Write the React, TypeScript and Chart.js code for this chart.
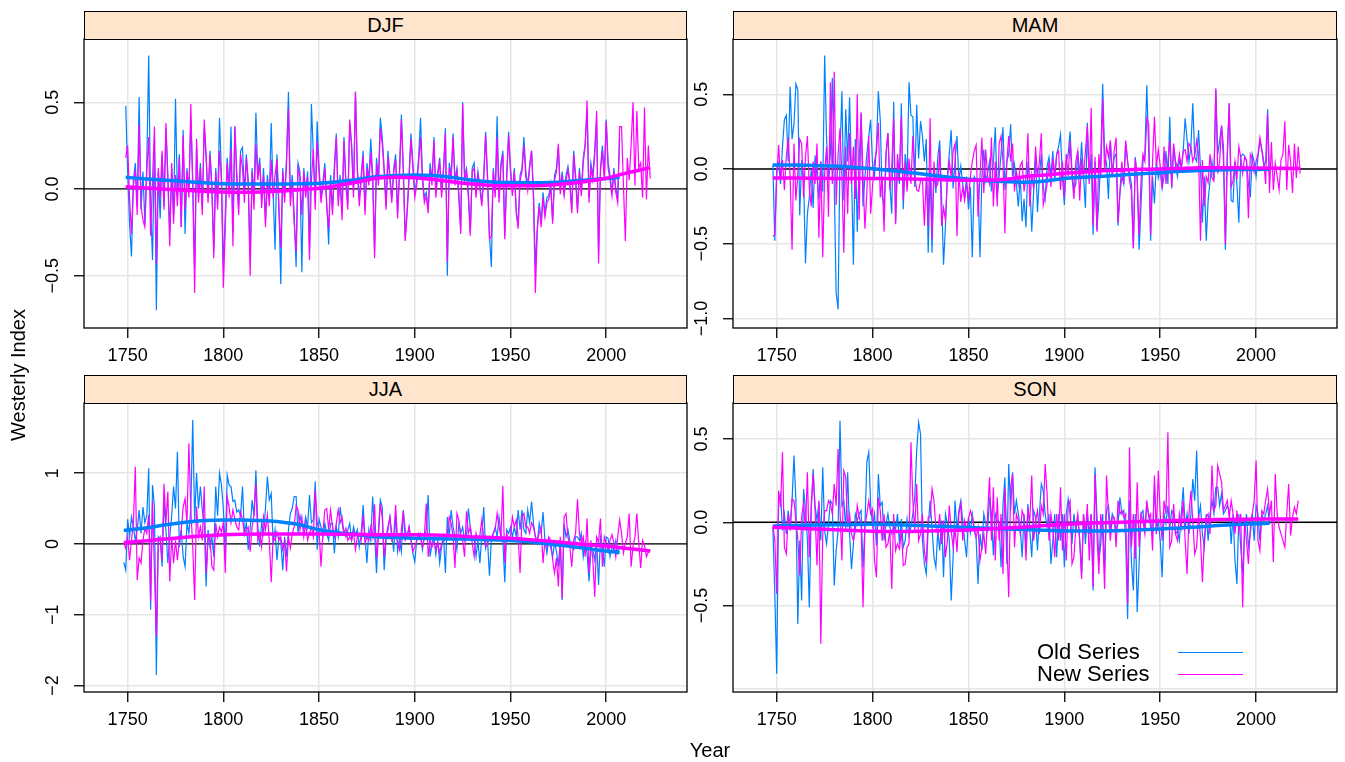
import React, { useEffect, useRef } from "react";
import { Chart, registerables } from "chart.js";
Chart.register(...registerables);

const OLD_COLOR = "#0080ff";
const NEW_COLOR = "#ff00ff";
const FONT = '"Liberation Sans", Arial, Helvetica, sans-serif';

const X_MIN = 1727.2;
const X_MAX = 2042.2;
const X_TICKS = [1750, 1800, 1850, 1900, 1950, 2000];

// ---------------- DJF ----------------
const DJF_START = 1749;
const DJF_OLD = [
  0.48,
  0.10, -0.20, -0.39, 0.05, 0.15, -0.10, 0.53, -0.12, 0.10, -0.20,
  0.15, 0.77, -0.10, -0.41, 0.30, -0.70, 0.10, -0.17, 0.20, -0.10,
  0.35, 0.08, -0.25, 0.12, -0.15, 0.52, -0.05, 0.20, -0.22, 0.34,
  -0.26, 0.12, -0.02, 0.40, 0.05, -0.45, 0.25, -0.05, 0.15, -0.12,
  0.35, 0.18, -0.05, 0.22, 0.02, -0.35, 0.12, -0.08, 0.41, 0.08,
  -0.45, -0.15, 0.18, 0.00, 0.36, -0.25, 0.36, 0.10, -0.10, 0.22,
  0.24, -0.02, 0.20, 0.05, -0.40, 0.12, -0.05, 0.44, 0.08, 0.18,
  -0.06, 0.12, -0.18, 0.08, -0.05, 0.38, -0.02, -0.35, 0.20, -0.08,
  -0.55, 0.12, -0.05, 0.18, 0.56, -0.05, 0.08, -0.15, -0.45, 0.15,
  0.10, -0.48, 0.12, -0.02, 0.10, -0.35, 0.49, 0.20, -0.08, 0.39,
  0.12, -0.05, 0.04, 0.15, -0.08, -0.32, 0.08, -0.12, 0.14, 0.32,
  -0.06, 0.08, -0.14, 0.30, 0.05, -0.08, 0.38, 0.26, -0.02, 0.56,
  0.12, -0.06, 0.08, 0.22, -0.12, 0.15, 0.05, 0.29, 0.08, -0.35,
  0.18, 0.05, 0.41, 0.30, 0.12, -0.10, 0.22, 0.08, -0.05, 0.12,
  0.20, -0.14, 0.10, 0.43, 0.12, -0.28, -0.12, 0.08, 0.32, 0.15,
  -0.02, 0.05, 0.18, 0.41, 0.08, -0.05, -0.02, -0.12, 0.15, 0.05,
  0.30, -0.02, 0.10, 0.18, -0.02, 0.12, 0.35, -0.50, 0.15, 0.08,
  0.32, 0.05, 0.12, -0.02, -0.24, 0.50, 0.08, 0.12, -0.02, -0.25,
  0.12, 0.15, -0.02, 0.10, 0.02, -0.08, 0.08, 0.33, 0.08, -0.27,
  -0.45, 0.12, -0.02, 0.42, -0.05, 0.15, 0.22, -0.27, 0.08, 0.33,
  0.12, -0.02, 0.12, -0.12, -0.21, 0.08, 0.12, 0.30, 0.10, 0.02,
  0.14, 0.22, -0.02, -0.45, -0.22, -0.08, -0.20, -0.02, -0.14, -0.05,
  -0.04, 0.03, -0.18, 0.08, 0.12, 0.24, -0.01, 0.10, -0.02, 0.08,
  0.13, 0.04, -0.12, 0.22, 0.08, -0.12, 0.12, -0.02, 0.18, 0.26,
  0.45, -0.05, 0.15, 0.08, 0.22, 0.40, -0.38, 0.12, 0.25, 0.08,
  0.40, 0.15, 0.08, -0.02, 0.12, 0.00, -0.05, 0.30,
];
const DJF_NEW = [
  0.18,
  0.25, -0.05, -0.26, 0.02, 0.11, -0.15, 0.37, -0.10, -0.18, -0.22,
  0.10, 0.30, -0.27, 0.05, 0.36, -0.43, 0.12, -0.05, 0.22, -0.12,
  0.38, 0.05, -0.33, 0.15, -0.20, 0.08, -0.10, 0.18, -0.22, 0.31,
  -0.12, 0.10, -0.05, 0.49, 0.02, -0.60, 0.29, -0.08, 0.12, -0.15,
  0.40, 0.20, -0.08, 0.20, 0.00, -0.40, 0.10, -0.12, 0.22, 0.05,
  -0.57, -0.23, 0.15, -0.05, 0.23, -0.33, 0.36, 0.05, -0.15, 0.20,
  0.12, -0.08, 0.18, 0.02, -0.50, 0.10, -0.12, 0.26, 0.05, 0.15,
  -0.11, 0.08, -0.22, 0.05, -0.10, 0.17, -0.05, 0.08, 0.17, -0.12,
  -0.34, 0.10, -0.08, 0.15, 0.46, -0.10, 0.05, -0.20, -0.36, 0.12,
  0.07, -0.15, 0.10, -0.05, 0.07, -0.41, 0.05, 0.23, -0.12, 0.27,
  0.10, -0.08, 0.01, 0.12, -0.10, -0.23, 0.05, -0.15, 0.10, 0.30,
  -0.10, 0.05, -0.18, 0.28, 0.02, -0.12, 0.40, 0.24, -0.05, 0.56,
  0.10, -0.10, 0.05, 0.19, -0.15, 0.12, 0.02, 0.21, 0.05, -0.40,
  0.15, 0.02, 0.35, 0.26, 0.10, -0.12, 0.19, 0.05, -0.08, 0.10,
  0.17, -0.17, 0.08, 0.40, 0.10, -0.30, -0.14, 0.05, 0.29, 0.12,
  -0.05, 0.02, 0.15, 0.30, 0.05, -0.08, -0.04, -0.14, 0.12, 0.02,
  0.28, -0.05, 0.08, 0.15, -0.05, 0.10, 0.32, -0.42, 0.12, 0.05,
  0.30, 0.02, 0.10, -0.05, -0.26, 0.49, 0.05, 0.10, -0.05, -0.27,
  0.10, 0.12, -0.05, 0.08, 0.00, -0.10, 0.05, 0.31, 0.05, -0.29,
  -0.27, 0.10, -0.05, 0.30, -0.08, 0.12, 0.20, -0.29, 0.05, 0.31,
  0.10, -0.04, 0.10, -0.14, -0.23, 0.05, 0.10, 0.25, 0.07, -0.01,
  0.12, 0.22, -0.05, -0.60, -0.24, -0.10, -0.22, -0.05, -0.16, -0.08,
  -0.06, 0.01, -0.20, 0.05, 0.10, 0.26, -0.03, 0.08, -0.04, 0.05,
  0.11, 0.02, -0.14, 0.20, 0.05, -0.14, 0.10, -0.04, 0.15, 0.25,
  0.51, -0.08, 0.12, 0.05, 0.20, 0.45, -0.43, 0.10, 0.22, 0.05,
  0.39, 0.12, 0.05, -0.04, 0.10, -0.02, -0.08, 0.36, 0.36, 0.02,
  -0.30, 0.18, 0.05, 0.25, 0.50, 0.02, 0.45, 0.12, 0.15, -0.05,
  0.47, -0.06, 0.25, 0.06,
];
const DJF_OLD_SMOOTH = [
  [1749, 0.067], [1760, 0.058], [1770, 0.05], [1780, 0.043], [1790, 0.036], [1800, 0.03],
  [1810, 0.028], [1820, 0.028], [1830, 0.029], [1840, 0.03], [1850, 0.033], [1860, 0.042],
  [1870, 0.055], [1880, 0.07], [1890, 0.078], [1900, 0.081], [1910, 0.077], [1920, 0.066],
  [1930, 0.05], [1940, 0.04], [1950, 0.037], [1960, 0.036], [1970, 0.037], [1980, 0.043],
  [1990, 0.052], [2000, 0.06], [2007, 0.067],
];
const DJF_NEW_SMOOTH = [
  [1749, 0.013], [1760, 0.005], [1770, -0.002], [1780, -0.008], [1790, -0.013], [1800, -0.018],
  [1810, -0.019], [1820, -0.017], [1830, -0.012], [1840, -0.004], [1850, 0.004], [1860, 0.02],
  [1870, 0.04], [1880, 0.062], [1890, 0.068], [1900, 0.065], [1910, 0.055], [1920, 0.04],
  [1930, 0.028], [1940, 0.02], [1950, 0.018], [1960, 0.018], [1970, 0.022], [1980, 0.032],
  [1990, 0.045], [2000, 0.062], [2010, 0.09], [2023, 0.123],
];

// ---------------- MAM ----------------
const MAM_START = 1748;
const MAM_OLD = [
  0.03, -0.48,
  0.00, 0.04, -0.10, 0.15, 0.33, 0.36, 0.05, 0.55, 0.20, 0.30,
  0.57, 0.53, -0.31, 0.06, -0.05, -0.63, -0.30, -0.19, 0.00, -0.26,
  0.09, -0.05, -0.20, 0.05, -0.15, 0.76, 0.20, -0.07, 0.10, 0.61,
  -0.10, -0.83, -0.94, 0.10, 0.52, -0.21, 0.40, 0.05, 0.48, -0.03,
  -0.64, 0.20, -0.42, 0.05, 0.37, -0.25, -0.05, 0.10, 0.22, 0.33,
  0.02, -0.05, 0.15, 0.52, 0.33, -0.18, -0.25, 0.10, 0.24, -0.10,
  -0.30, 0.45, -0.36, 0.05, -0.10, 0.44, -0.27, 0.10, -0.05, 0.58,
  0.36, 0.35, -0.12, 0.43, 0.07, 0.32, 0.22, 0.05, 0.20, -0.56,
  0.00, -0.56, 0.00, -0.16, 0.08, 0.19, -0.20, -0.64, -0.38, -0.05,
  0.10, 0.26, -0.13, 0.05, 0.22, -0.08, 0.02, -0.10, -0.19, -0.05,
  -0.27, -0.12, -0.59, -0.05, -0.07, -0.10, -0.59, -0.05, 0.13, -0.08,
  -0.03, 0.05, -0.15, 0.05, 0.28, -0.19, -0.05, 0.10, 0.28, -0.14,
  0.05, 0.10, 0.30, -0.05, 0.03, -0.10, -0.25, -0.05, -0.35, -0.20,
  -0.39, 0.05, -0.08, -0.42, -0.15, 0.08, -0.29, -0.05, 0.10, -0.12,
  -0.20, 0.02, 0.08, -0.05, 0.12, -0.08, 0.10, 0.15, 0.23, -0.05,
  -0.24, 0.05, 0.10, 0.25, -0.02, -0.14, -0.10, 0.12, -0.05, 0.18,
  -0.05, -0.26, 0.31, -0.08, 0.10, -0.44, 0.05, -0.41, -0.21, 0.08,
  0.57, 0.10, 0.04, -0.20, 0.19, -0.05, 0.08, 0.10, -0.38, -0.16,
  -0.05, -0.10, 0.17, 0.05, -0.03, -0.10, -0.53, 0.08, -0.08, -0.54,
  -0.24, 0.05, 0.10, 0.56, 0.12, -0.48, -0.05, -0.23, 0.05, -0.06,
  0.00, -0.13, -0.05, 0.12, -0.10, 0.35, -0.13, 0.15, 0.02, -0.05,
  0.06, 0.00, 0.12, 0.34, 0.20, 0.05, 0.15, 0.44, 0.08, 0.05,
  0.26, 0.01, -0.36, -0.05, -0.48, -0.21, -0.08, 0.05, -0.07, 0.53,
  0.10, 0.19, 0.29, 0.05, -0.54, 0.10, 0.44, -0.21, -0.22, 0.05,
  -0.10, -0.36, 0.08, 0.10, 0.09, 0.05, -0.10, -0.19, 0.10, 0.05,
  -0.05, 0.08, 0.19, 0.13, 0.02, 0.05, 0.40, -0.04,
];
const MAM_NEW = [
  -0.45, -0.44,
  -0.05, 0.16, -0.07, 0.06, -0.14, 0.08, 0.21, -0.05, -0.54, 0.17,
  -0.21, -0.03, 0.20, 0.17, -0.19, 0.08, 0.22, -0.13, -0.25, 0.05,
  -0.10, 0.17, -0.46, 0.05, -0.59, -0.03, 0.15, -0.32, 0.58, -0.10,
  0.65, -0.24, 0.10, 0.27, -0.05, -0.56, 0.15, -0.30, 0.24, -0.10,
  0.15, -0.20, 0.50, -0.34, 0.38, -0.05, -0.40, -0.16, 0.22, -0.30,
  -0.11, 0.05, 0.12, 0.31, -0.19, -0.05, -0.42, 0.10, 0.24, -0.14,
  0.02, 0.34, -0.37, 0.10, -0.05, 0.35, -0.21, 0.05, -0.15, 0.07,
  -0.10, 0.22, -0.05, -0.14, -0.15, -0.08, -0.07, -0.38, -0.05, -0.38,
  0.34, -0.47, 0.05, -0.12, -0.10, 0.13, -0.38, -0.26, -0.34, -0.06,
  0.05, -0.05, 0.12, 0.17, -0.45, -0.02, -0.22, -0.12, -0.21, -0.10,
  -0.20, -0.05, 0.05, 0.12, 0.16, -0.32, -0.05, 0.21, -0.16, 0.13,
  -0.05, -0.10, 0.21, -0.25, 0.05, -0.25, 0.17, 0.22, 0.05, -0.43,
  0.05, 0.22, 0.05, 0.17, -0.15, -0.02, -0.10, 0.02, 0.05, -0.15,
  -0.05, 0.24, -0.25, -0.04, -0.13, 0.15, -0.05, 0.05, 0.24, -0.24,
  -0.18, -0.10, 0.05, -0.12, 0.07, -0.05, 0.10, 0.12, -0.14, 0.05,
  -0.19, 0.10, -0.05, 0.19, -0.05, -0.20, 0.05, 0.12, -0.21, 0.07,
  -0.05, 0.12, 0.29, -0.10, 0.41, -0.38, 0.08, -0.42, 0.10, -0.05,
  0.47, -0.02, 0.15, 0.08, 0.19, -0.05, 0.12, 0.21, -0.36, -0.15,
  0.05, -0.10, 0.19, 0.05, -0.08, -0.15, -0.53, 0.07, -0.05, -0.44,
  -0.07, 0.10, 0.05, 0.34, 0.30, -0.44, 0.05, 0.35, 0.02, 0.13,
  0.02, -0.13, 0.15, -0.10, 0.05, 0.19, -0.12, 0.17, 0.05, 0.01,
  0.10, 0.01, 0.12, 0.13, 0.05, 0.17, 0.15, 0.05, 0.09, 0.19,
  0.10, -0.48, 0.06, -0.25, -0.05, -0.09, 0.10, -0.06, -0.08, 0.54,
  -0.03, 0.05, 0.29, 0.15, -0.50, 0.10, 0.44, -0.12, -0.08, 0.05,
  -0.07, 0.15, 0.08, -0.03, 0.08, 0.06, -0.33, 0.10, 0.07, -0.02,
  0.05, 0.10, 0.21, 0.13, 0.05, -0.10, 0.37, -0.16, 0.18, -0.14,
  0.04, -0.05, -0.14, 0.06, 0.10, 0.32, -0.14, 0.16, 0.05, -0.16,
  0.17, -0.06, 0.15, -0.03,
];
const MAM_OLD_SMOOTH = [
  [1748, 0.027], [1760, 0.026], [1770, 0.024], [1780, 0.02], [1790, 0.012], [1800, 0.002],
  [1810, -0.01], [1820, -0.025], [1830, -0.04], [1840, -0.055], [1850, -0.068], [1860, -0.078],
  [1870, -0.085], [1880, -0.089], [1890, -0.08], [1900, -0.064], [1910, -0.055], [1920, -0.048],
  [1930, -0.04], [1940, -0.032], [1950, -0.025], [1960, -0.015], [1970, -0.01], [1980, -0.006],
  [1990, -0.004], [2000, -0.003], [2007, -0.002],
];
const MAM_NEW_SMOOTH = [
  [1748, -0.06], [1760, -0.061], [1770, -0.062], [1780, -0.063], [1790, -0.063], [1800, -0.064],
  [1810, -0.065], [1820, -0.067], [1830, -0.07], [1840, -0.073], [1850, -0.075], [1860, -0.074],
  [1870, -0.068], [1880, -0.05], [1890, -0.04], [1900, -0.029], [1910, -0.02], [1920, -0.012],
  [1930, -0.006], [1940, -0.002], [1950, 0.0], [1960, 0.004], [1970, 0.008], [1980, 0.009],
  [1990, 0.008], [2000, 0.006], [2010, 0.005], [2023, 0.004],
];

// ---------------- JJA ----------------
const JJA_START = 1748;
const JJA_OLD = [
  -0.26, -0.37,
  0.35, 0.10, 0.38, 0.24, 0.05, 0.20, 0.48, 0.15, 0.52, 0.30,
  0.40, 1.07, -0.93, 0.83, 0.52, -1.85, 0.10, 0.05, -0.32, 0.60,
  0.20, -0.27, 0.10, 0.40, 0.81, 0.50, 1.30, -0.04, 0.20, -0.18,
  -0.32, 0.30, 0.15, 0.50, 1.75, 0.34, 1.00, 0.50, 0.81, 0.48,
  0.30, -0.60, 0.20, -0.04, 0.10, -0.18, 0.81, 0.40, 1.00, 0.83,
  0.50, -0.13, 0.97, 0.83, 0.81, 0.60, 0.62, 0.45, 0.48, 0.40,
  0.81, 0.15, 0.30, -0.08, 0.20, 0.62, 0.40, 1.04, 0.24, -0.04,
  0.30, 0.15, 0.50, 0.95, 0.62, 0.71, 0.01, 0.20, -0.23, 0.10,
  0.05, -0.37, 0.10, -0.18, 0.20, 0.43, 0.50, 0.67, 0.67, 0.15,
  0.40, 0.29, 0.20, 0.38, 0.24, 0.69, 0.30, 0.34, 0.88, -0.08,
  0.35, 0.24, 0.10, 0.29, 0.15, 0.05, 0.29, 0.29, -0.13, 0.24,
  0.10, 0.52, 0.30, 0.15, 0.10, 0.20, 0.29, 0.05, 0.24, 0.13,
  0.20, -0.04, 0.15, 0.55, 0.10, -0.27, 0.20, 0.05, 0.67, 0.15,
  -0.41, 0.20, 0.62, 0.52, -0.37, 0.05, 0.20, 0.38, 0.15, -0.11,
  0.43, -0.11, 0.05, -0.11, 0.48, 0.20, 0.10, 0.24, 0.05, -0.13,
  -0.25, 0.05, 0.10, 0.15, -0.08, 0.10, 0.20, 0.69, -0.18, 0.01,
  0.10, -0.15, 0.05, -0.27, -0.04, 0.10, -0.41, 0.38, 0.10, 0.48,
  0.24, 0.10, -0.08, 0.29, 0.15, 0.24, 0.05, 0.10, 0.50, 0.24,
  0.05, 0.10, -0.18, 0.05, -0.27, 0.10, 0.52, -0.06, 0.05, -0.45,
  0.05, 0.15, 0.24, 0.10, 0.38, 0.15, 0.05, -0.54, 0.20, 0.15,
  0.24, 0.10, 0.24, 0.10, 0.48, 0.20, 0.48, 0.20, 0.15, 0.48,
  0.30, 0.60, 0.29, 0.10, 0.01, 0.29, 0.15, 0.45, 0.05, -0.13,
  0.05, -0.05, -0.18, 0.01, -0.10, -0.32, 0.05, -0.79, 0.29, 0.10,
  0.20, 0.05, -0.05, -0.08, 0.10, 0.10, 0.05, 0.15, -0.18, 0.02,
  -0.13, -0.53, -0.08, -0.08, -0.23, 0.05, -0.58, 0.10, -0.04, -0.32,
  0.10, 0.08, -0.18, -0.05, -0.08, 0.05, -0.13, -0.05,
];
const JJA_NEW = [
  0.02, -0.06,
  0.10, -0.23, 0.05, 0.30, 1.09, -0.51, -0.20, -0.27, 0.05, 0.22,
  0.15, 0.41, -0.81, 0.60, -0.37, -1.30, 0.05, 0.10, -0.23, 0.85,
  0.30, 0.74, -0.53, 0.10, -0.27, 0.05, -0.23, 0.05, 0.20, 0.52,
  0.64, 0.30, 1.42, 0.48, -0.04, -0.79, 0.53, 0.10, 0.24, 0.05,
  0.81, -0.41, 0.05, 0.10, -0.32, -0.37, 0.29, 0.10, 0.24, 0.17,
  0.30, -0.41, 0.67, 0.52, 0.30, 0.48, 0.35, 0.24, 0.20, 0.45,
  0.34, 0.15, 0.20, 0.24, -0.11, 0.24, 0.40, 0.85, 0.05, 0.15,
  -0.04, 0.38, 0.20, 0.41, 0.05, -0.54, 0.10, 0.05, 0.17, 0.05,
  0.10, -0.08, 0.05, -0.39, 0.10, -0.06, 0.15, 0.24, 0.54, 0.48,
  0.20, 0.38, 0.10, 0.29, 0.05, 0.15, 0.24, 0.10, 0.76, 0.30,
  0.20, -0.32, 0.15, 0.48, 0.50, 0.20, 0.48, 0.24, 0.10, 0.29,
  0.48, 0.30, 0.38, 0.15, 0.22, 0.05, 0.10, 0.05, 0.17, -0.08,
  0.10, 0.15, 0.05, 0.41, 0.01, 0.10, 0.05, 0.24, 0.10, 0.56,
  -0.20, 0.10, 0.57, 0.38, -0.18, 0.10, 0.24, 0.38, 0.05, 0.10,
  0.55, 0.05, -0.08, 0.20, 0.46, 0.05, 0.10, 0.24, 0.08, -0.11,
  -0.04, 0.05, 0.15, 0.08, -0.04, 0.10, 0.57, -0.18, 0.05, -0.04,
  0.03, -0.08, 0.02, -0.13, 0.01, 0.05, 0.06, 0.15, 0.38, 0.29,
  0.10, -0.34, 0.43, 0.34, 0.10, 0.05, -0.18, 0.46, 0.15, 0.24,
  0.01, -0.18, 0.15, 0.05, 0.12, 0.34, 0.10, -0.04, 0.01, 0.10,
  0.05, 0.15, 0.20, 0.43, 0.24, 0.10, 0.82, -0.27, 0.15, 0.05,
  0.12, 0.38, 0.24, 0.34, 0.10, -0.41, 0.38, 0.43, 0.24, 0.24,
  0.15, 0.30, 0.24, 0.10, 0.05, 0.15, 0.24, -0.27, 0.05, -0.04,
  0.10, 0.05, -0.22, -0.41, -0.20, -0.60, 0.10, -0.77, 0.38, 0.43,
  0.10, -0.04, -0.32, 0.05, 0.15, 0.63, 0.15, 0.01, 0.10, -0.18,
  0.36, -0.41, 0.05, -0.22, -0.75, 0.10, 0.03, 0.36, -0.32, 0.10,
  0.01, -0.11, 0.05, 0.13, 0.02, -0.18, 0.10, 0.34, 0.15, -0.13,
  0.01, 0.10, 0.43, -0.32, -0.04, 0.10, 0.43, 0.01, -0.34, 0.05,
  -0.02, -0.18, -0.11, -0.08,
];
const JJA_OLD_SMOOTH = [
  [1748, 0.19], [1760, 0.23], [1770, 0.27], [1780, 0.305], [1790, 0.33], [1800, 0.34],
  [1810, 0.34], [1820, 0.33], [1830, 0.31], [1840, 0.27], [1850, 0.2], [1860, 0.16],
  [1870, 0.13], [1880, 0.1], [1890, 0.09], [1900, 0.08], [1910, 0.075], [1920, 0.07],
  [1930, 0.065], [1940, 0.058], [1950, 0.05], [1960, 0.03], [1970, 0.0], [1980, -0.03],
  [1990, -0.065], [2000, -0.1], [2007, -0.12],
];
const JJA_NEW_SMOOTH = [
  [1748, 0.02], [1760, 0.045], [1770, 0.07], [1780, 0.095], [1790, 0.115], [1800, 0.13],
  [1810, 0.137], [1820, 0.14], [1830, 0.14], [1840, 0.14], [1850, 0.14], [1860, 0.138],
  [1870, 0.134], [1880, 0.13], [1890, 0.13], [1900, 0.13], [1910, 0.125], [1920, 0.115],
  [1930, 0.1], [1940, 0.09], [1950, 0.08], [1960, 0.06], [1970, 0.04], [1980, 0.015],
  [1990, -0.01], [2000, -0.03], [2010, -0.06], [2023, -0.1],
];

// ---------------- SON ----------------
const SON_START = 1748;
const SON_OLD = [
  -0.03, -0.43,
  -0.91, 0.13, 0.17, -0.05, 0.05, -0.07, 0.07, -0.03, 0.13, 0.40,
  0.13, -0.61, -0.11, -0.47, 0.20, 0.07, -0.10, -0.51, 0.07, 0.32,
  0.10, 0.01, 0.12, -0.11, 0.33, -0.05, -0.13, -0.01, 0.13, 0.11,
  -0.38, -0.17, -0.05, 0.61, 0.10, 0.13, -0.04, 0.30, -0.07, -0.28,
  -0.13, 0.05, 0.01, 0.05, 0.07, -0.27, -0.03, 0.36, 0.42, 0.10,
  -0.02, 0.05, -0.14, 0.29, 0.10, 0.12, -0.11, -0.01, 0.05, -0.03,
  -0.07, -0.02, -0.04, 0.05, -0.13, 0.02, -0.15, -0.11, 0.02, -0.08,
  -0.03, 0.05, 0.15, 0.43, 0.60, 0.53, -0.11, -0.25, -0.31, -0.03,
  0.13, -0.03, -0.21, -0.27, -0.05, -0.17, 0.01, -0.33, 0.05, -0.01,
  -0.11, -0.47, -0.21, 0.13, -0.05, 0.07, 0.13, 0.01, -0.11, -0.21,
  0.03, -0.06, 0.05, -0.03, -0.10, -0.37, -0.07, -0.17, 0.05, -0.01,
  -0.05, 0.15, 0.05, -0.20, 0.05, 0.01, -0.01, -0.27, 0.10, 0.27,
  -0.25, 0.35, 0.07, 0.30, 0.05, 0.13, 0.05, -0.03, -0.21, 0.05,
  -0.15, 0.11, -0.05, -0.21, 0.07, 0.03, -0.17, 0.05, 0.23, 0.19,
  0.05, -0.03, 0.05, -0.25, -0.11, 0.05, -0.21, 0.05, -0.11, 0.05,
  -0.27, 0.05, 0.14, 0.05, -0.13, 0.05, -0.05, 0.03, -0.10, -0.31,
  0.05, -0.13, 0.05, -0.07, 0.05, -0.41, 0.33, 0.05, -0.23, -0.13,
  0.05, -0.29, 0.07, 0.10, -0.03, 0.05, 0.02, -0.05, -0.01, 0.15,
  0.05, 0.07, -0.10, -0.58, 0.13, -0.24, -0.41, 0.05, -0.54, -0.25,
  0.05, 0.07, -0.05, 0.11, 0.05, -0.03, -0.07, 0.23, -0.05, 0.01,
  -0.11, -0.33, 0.05, -0.01, 0.10, -0.03, 0.07, 0.05, -0.07, -0.05,
  -0.11, 0.05, 0.21, -0.03, 0.05, -0.07, 0.05, 0.26, 0.13, 0.43,
  0.03, 0.10, -0.07, -0.15, 0.05, -0.11, 0.05, 0.13, 0.05, 0.21,
  0.21, 0.10, 0.17, 0.05, 0.07, 0.10, 0.07, -0.13, 0.05, -0.23,
  -0.37, 0.05, -0.15, -0.31, -0.07, 0.05, -0.15, -0.07, 0.05, -0.11,
  0.10, 0.05, -0.11, 0.05, 0.01, 0.05, 0.10, -0.01,
];
const SON_NEW = [
  -0.02, -0.11,
  -0.43, 0.19, 0.09, 0.42, -0.15, -0.19, 0.05, -0.05, 0.14, 0.13,
  0.01, -0.10, -0.32, 0.03, 0.11, -0.05, 0.30, -0.21, 0.10, 0.29,
  0.07, -0.26, 0.13, -0.73, -0.07, 0.07, 0.07, 0.13, 0.11, 0.05,
  0.23, 0.10, 0.44, 0.07, -0.23, 0.31, 0.27, -0.03, 0.05, -0.07,
  -0.11, -0.05, 0.10, 0.03, -0.01, -0.51, -0.03, 0.05, 0.13, 0.05,
  0.08, -0.23, -0.33, 0.15, 0.07, -0.11, 0.05, -0.15, -0.13, -0.05,
  -0.40, 0.05, -0.17, -0.13, -0.16, -0.05, -0.26, -0.25, -0.15, -0.13,
  0.48, 0.13, -0.05, 0.23, -0.11, -0.07, 0.05, -0.17, -0.25, 0.03,
  0.03, 0.20, 0.13, -0.03, -0.07, 0.05, -0.13, 0.01, -0.21, -0.11,
  0.10, -0.05, -0.15, -0.03, -0.18, 0.05, 0.11, -0.11, 0.01, -0.05,
  0.02, 0.07, 0.03, -0.05, -0.09, -0.03, -0.23, -0.15, -0.07, -0.19,
  0.05, 0.27, -0.11, 0.21, -0.23, 0.15, -0.11, 0.05, -0.31, 0.21,
  -0.11, -0.45, 0.21, 0.29, -0.15, 0.05, 0.01, -0.07, 0.07, 0.03,
  -0.23, 0.07, 0.01, 0.28, -0.11, 0.01, 0.07, -0.07, 0.10, 0.05,
  0.35, 0.17, -0.11, 0.05, -0.03, -0.21, 0.05, -0.11, 0.21, -0.17,
  0.05, -0.23, 0.10, 0.13, -0.25, -0.21, -0.03, 0.05, -0.11, -0.34,
  0.05, -0.07, 0.11, -0.23, 0.05, -0.39, 0.29, -0.07, -0.31, 0.05,
  -0.07, -0.40, 0.28, 0.05, -0.11, 0.03, 0.03, -0.15, 0.13, 0.05,
  0.07, 0.03, 0.05, -0.49, 0.45, -0.15, 0.05, -0.22, 0.24, -0.15,
  0.05, 0.01, -0.07, 0.13, 0.03, 0.05, -0.17, 0.28, -0.07, 0.31,
  0.05, -0.11, 0.13, 0.05, 0.54, -0.15, -0.11, 0.11, -0.07, -0.11,
  0.05, -0.03, 0.13, -0.11, -0.31, 0.05, 0.19, 0.01, -0.19, -0.15,
  0.05, -0.09, -0.36, -0.11, 0.03, 0.05, -0.07, 0.34, 0.07, 0.10,
  0.34, 0.29, 0.24, 0.07, 0.10, 0.13, 0.03, 0.13, 0.05, -0.07,
  0.07, -0.05, 0.05, -0.51, 0.01, -0.11, -0.25, -0.03, 0.05, 0.13,
  0.37, -0.11, -0.17, 0.07, 0.05, 0.13, 0.20, 0.05, 0.13, -0.24,
  0.29, 0.05, -0.03, -0.07, -0.11, -0.15, 0.05, 0.23, -0.08, 0.03,
  0.09, 0.05, 0.13,
];
const SON_OLD_SMOOTH = [
  [1748, -0.022], [1760, -0.02], [1770, -0.017], [1780, -0.015], [1790, -0.013], [1800, -0.012],
  [1810, -0.014], [1820, -0.018], [1830, -0.022], [1840, -0.026], [1850, -0.031], [1860, -0.036],
  [1870, -0.04], [1880, -0.044], [1890, -0.048], [1900, -0.052], [1910, -0.053], [1920, -0.052],
  [1930, -0.05], [1940, -0.045], [1950, -0.04], [1960, -0.034], [1970, -0.028], [1980, -0.02],
  [1990, -0.014], [2000, -0.009], [2007, -0.006],
];
const SON_NEW_SMOOTH = [
  [1748, -0.03], [1760, -0.035], [1770, -0.04], [1780, -0.045], [1790, -0.05], [1800, -0.054],
  [1810, -0.056], [1820, -0.055], [1830, -0.053], [1840, -0.05], [1850, -0.046], [1860, -0.041],
  [1870, -0.035], [1880, -0.028], [1890, -0.02], [1900, -0.012], [1910, -0.007], [1920, -0.003],
  [1930, 0.0], [1940, 0.004], [1950, 0.008], [1960, 0.011], [1970, 0.014], [1980, 0.016],
  [1990, 0.018], [2000, 0.019], [2010, 0.02], [2022, 0.02],
];

// ---------------- y-axis ticks ----------------
const DJF_Y_TICKS = [-0.5, 0, 0.5];
const DJF_Y_LABELS = ["−0.5", "0.0", "0.5"];
const MAM_Y_TICKS = [-1, -0.5, 0, 0.5];
const MAM_Y_LABELS = ["−1.0", "−0.5", "0.0", "0.5"];
const JJA_Y_TICKS = [-2, -1, 0, 1];
const JJA_Y_LABELS = ["−2", "−1", "0", "1"];
const SON_Y_TICKS = [-1, -0.5, 0, 0.5];
const SON_Y_LABELS = ["", "−0.5", "0.0", "0.5"];

const toPoints = (start: number, vals: number[]) => vals.map((v, i) => ({ x: start + i, y: v }));
const pairPoints = (pairs: number[][]) => pairs.map(([x, y]) => ({ x, y }));

const PANELS = [
  {
    name: "DJF", left: 84, top: 39, width: 603, height: 289, yMin: -0.802, yMax: 0.865,
    start: DJF_START, old: DJF_OLD, nw: DJF_NEW, oldS: DJF_OLD_SMOOTH, newS: DJF_NEW_SMOOTH,
    yTicks: DJF_Y_TICKS, yLabels: DJF_Y_LABELS,
  },
  {
    name: "MAM", left: 733, top: 39, width: 604, height: 289, yMin: -1.064, yMax: 0.87,
    start: MAM_START, old: MAM_OLD, nw: MAM_NEW, oldS: MAM_OLD_SMOOTH, newS: MAM_NEW_SMOOTH,
    yTicks: MAM_Y_TICKS, yLabels: MAM_Y_LABELS,
  },
  {
    name: "JJA", left: 84, top: 403, width: 603, height: 289, yMin: -2.09, yMax: 1.99,
    start: JJA_START, old: JJA_OLD, nw: JJA_NEW, oldS: JJA_OLD_SMOOTH, newS: JJA_NEW_SMOOTH,
    yTicks: JJA_Y_TICKS, yLabels: JJA_Y_LABELS,
  },
  {
    name: "SON", left: 733, top: 403, width: 604, height: 289, yMin: -1.019, yMax: 0.716,
    start: SON_START, old: SON_OLD, nw: SON_NEW, oldS: SON_OLD_SMOOTH, newS: SON_NEW_SMOOTH,
    yTicks: SON_Y_TICKS, yLabels: SON_Y_LABELS,
  },
];

const AX_W = 80;
const PAD_T = 4;
const PAD_R = 6;
const AX_H = 50;

const framePlugin = {
  id: "frameAndZero",
  beforeDatasetsDraw(chart: any) {
    const { ctx, chartArea } = chart;
    const y0 = chart.scales.y.getPixelForValue(0);
    ctx.save();
    ctx.strokeStyle = "#000";
    ctx.lineWidth = 1.3;
    ctx.beginPath();
    ctx.moveTo(chartArea.left, y0);
    ctx.lineTo(chartArea.right, y0);
    ctx.stroke();
    ctx.restore();
  },
  afterDraw(chart: any) {
    const { ctx, chartArea } = chart;
    ctx.save();
    ctx.strokeStyle = "#000";
    ctx.lineWidth = 1.3;
    ctx.strokeRect(chartArea.left, chartArea.top, chartArea.right - chartArea.left, chartArea.bottom - chartArea.top);
    ctx.restore();
  },
};

const yTextPlugin = {
  id: "yText",
  afterDraw(chart: any, _args: any, opts: any) {
    const { ctx, chartArea } = chart;
    const ys = chart.scales.y;
    ctx.save();
    ctx.font = `18px ${FONT}`;
    ctx.fillStyle = "#000";
    ctx.textAlign = "center";
    ctx.textBaseline = "middle";
    (opts.values || []).forEach((v: number, i: number) => {
      const label = opts.labels[i];
      if (!label) return;
      const y = ys.getPixelForValue(v);
      ctx.save();
      ctx.translate(chartArea.left - 31, y);
      ctx.rotate(-Math.PI / 2);
      ctx.fillText(label, 0, 0);
      ctx.restore();
    });
    ctx.restore();
  },
};

function Panel({ p }: { p: any }) {
  const ref = useRef<HTMLCanvasElement | null>(null);
  useEffect(() => {
    if (!ref.current) return;
    const labelFor = (v: number) => {
      const i = p.yTicks.indexOf(v);
      return i >= 0 ? p.yLabels[i] : "";
    };
    const chart = new Chart(ref.current, {
      type: "line",
      data: {
        datasets: [
          { label: "Old Series", data: toPoints(p.start, p.old), borderColor: OLD_COLOR, borderWidth: 1.2, pointRadius: 0, tension: 0, order: 4 },
          { label: "New Series", data: toPoints(p.start, p.nw), borderColor: NEW_COLOR, borderWidth: 1.2, pointRadius: 0, tension: 0, order: 3 },
          { label: "Old smooth", data: pairPoints(p.oldS), borderColor: OLD_COLOR, borderWidth: 3.5, pointRadius: 0, cubicInterpolationMode: "monotone", order: 2 },
          { label: "New smooth", data: pairPoints(p.newS), borderColor: NEW_COLOR, borderWidth: 3.5, pointRadius: 0, cubicInterpolationMode: "monotone", order: 1 },
        ],
      },
      options: {
        responsive: false,
        animation: false,
        events: [],
        layout: { padding: { left: 0, top: PAD_T, right: PAD_R, bottom: 0 } },
        plugins: {
          legend: { display: false },
          tooltip: { enabled: false },
          yText: { values: p.yTicks, labels: p.yLabels },
        } as any,
        scales: {
          x: {
            type: "linear",
            min: X_MIN,
            max: X_MAX,
            bounds: "data",
            afterBuildTicks: (s: any) => { s.ticks = X_TICKS.map((v) => ({ value: v })); },
            afterFit: (s: any) => { s.height = AX_H; },
            grid: { color: "#e6e6e6", lineWidth: 1.5, tickColor: "#000", tickLength: 10, tickWidth: 1.3 },
            border: { display: false },
            ticks: {
              font: { family: FONT, size: 18 },
              color: "#000",
              padding: 7,
              maxRotation: 0,
              minRotation: 0,
              autoSkip: false,
              callback: (v: any) => String(v),
            },
          },
          y: {
            type: "linear",
            min: p.yMin,
            max: p.yMax,
            bounds: "data",
            afterBuildTicks: (s: any) => { s.ticks = p.yTicks.map((v: number) => ({ value: v })); },
            afterFit: (s: any) => { s.width = AX_W; },
            grid: {
              color: "#e6e6e6",
              lineWidth: 1.5,
              tickColor: (c: any) => (c.tick && labelFor(c.tick.value) ? "#000" : "rgba(0,0,0,0)"),
              tickLength: 10,
              tickWidth: 1.3,
            },
            border: { display: false },
            ticks: { display: false },
          },
        },
      } as any,
      plugins: [framePlugin, yTextPlugin],
    });
    return () => chart.destroy();
  }, [p]);

  const cw = p.width + AX_W + PAD_R;
  const chh = p.height + PAD_T + AX_H;
  return (
    <>
      <canvas
        ref={ref}
        width={cw}
        height={chh}
        style={{ position: "absolute", left: p.left - AX_W, top: p.top - PAD_T, width: cw, height: chh }}
      />
      <div
        style={{
          position: "absolute",
          left: p.left,
          top: p.top - 28,
          width: p.width,
          height: 29,
          boxSizing: "border-box",
          border: "1.3px solid #000",
          background: "#ffe5cc",
          fontFamily: FONT,
          fontSize: 20,
          lineHeight: "26px",
          textAlign: "center",
          color: "#000",
        }}
      >
        {p.name}
      </div>
    </>
  );
}

export default function App() {
  return (
    <div style={{ position: "absolute", left: 0, top: 0, width: 1345, height: 762, background: "#fff", overflow: "hidden", fontFamily: FONT }}>
      {PANELS.map((p) => (
        <Panel key={p.name} p={p} />
      ))}
      <div
        style={{
          position: "absolute",
          left: 18 - 100,
          top: 375 - 12,
          width: 200,
          height: 24,
          lineHeight: "24px",
          textAlign: "center",
          fontSize: 20,
          transform: "rotate(-90deg)",
          color: "#000",
        }}
      >
        Westerly Index
      </div>
      <div style={{ position: "absolute", left: 660, top: 738, width: 100, height: 24, lineHeight: "24px", textAlign: "center", fontSize: 20, color: "#000" }}>
        Year
      </div>
      <div style={{ position: "absolute", left: 1037, top: 641, fontSize: 22, lineHeight: "22px", color: "#000" }}>
        <div>Old Series</div>
        <div>New Series</div>
      </div>
      <div style={{ position: "absolute", left: 1178, top: 651.5, width: 65, height: 0, borderTop: `1.3px solid ${OLD_COLOR}` }} />
      <div style={{ position: "absolute", left: 1178, top: 673.5, width: 65, height: 0, borderTop: `1.3px solid ${NEW_COLOR}` }} />
    </div>
  );
}
